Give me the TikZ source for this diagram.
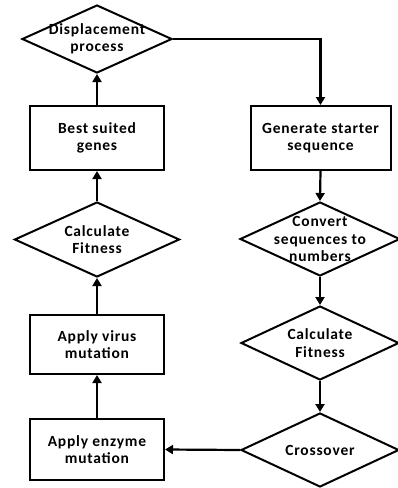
\documentclass[tikz,border=0pt]{standalone}
\usepackage{fontspec}
\setmainfont{Carlito}[LetterSpace=5]
\usetikzlibrary{shapes.geometric,arrows.meta}
\begin{document}
\begin{tikzpicture}[x=1pt,y=-1pt,
  every node/.style={font=\fontsize{15.5}{17.5}\selectfont\bfseries, align=center},
  stepbox/.style={draw, line width=2pt, minimum width=134pt, minimum height=63pt, inner sep=0pt},
  decision/.style={draw, diamond, line width=2pt, inner sep=0pt, minimum width=158pt, minimum height=74pt},
  flow/.style={line width=2.2pt, -{Triangle[width=9pt,length=8pt]}}
]
\useasboundingbox (0,0) rectangle (398,488);

% left column (bottom to top)
\node[decision, minimum width=150pt, minimum height=68pt] (disp) at (97,39) {};
\node at (disp) {Displacement\\process};
\node[stepbox, minimum height=64pt] (best) at (97,138) {Best suited\\genes};
\node[decision, minimum width=165pt, minimum height=75pt] (calcL) at (97,239.5) {};
\node at (calcL) {Calculate\\Fitness};
\node[stepbox, minimum height=59pt] (virus) at (97,344.5) {Apply virus\\mutation};
\node[stepbox, minimum height=61pt] (enzyme) at (97,449.5) {Apply enzyme\\mutation};

% right column (top to bottom)
\node[stepbox, minimum width=140pt, minimum height=64pt] (gen) at (320.5,138) {Generate starter\\sequence};
\node[decision, minimum width=160pt] (conv) at (320,239) {};
\node at (conv) {Convert\\sequences to\\numbers};
\node[decision] (calcR) at (320,343) {};
\node at (calcR) {Calculate\\Fitness};
\node[decision] (cross) at (320,450) {};
\node at (cross) {Crossover};

% connectors
\draw[flow] (disp.east) -| (gen.north);
\draw[flow] (gen.south) -- (conv.north);
\draw[flow] (conv.south) -- (calcR.north);
\draw[flow] (calcR.south) -- (cross.north);
\draw[flow] (cross.west) -- (enzyme.east);
\draw[flow] (enzyme.north) -- (virus.south);
\draw[flow] (virus.north) -- (calcL.south);
\draw[flow] (calcL.north) -- (best.south);
\draw[flow] (best.north) -- (disp.south);
\end{tikzpicture}
\end{document}
